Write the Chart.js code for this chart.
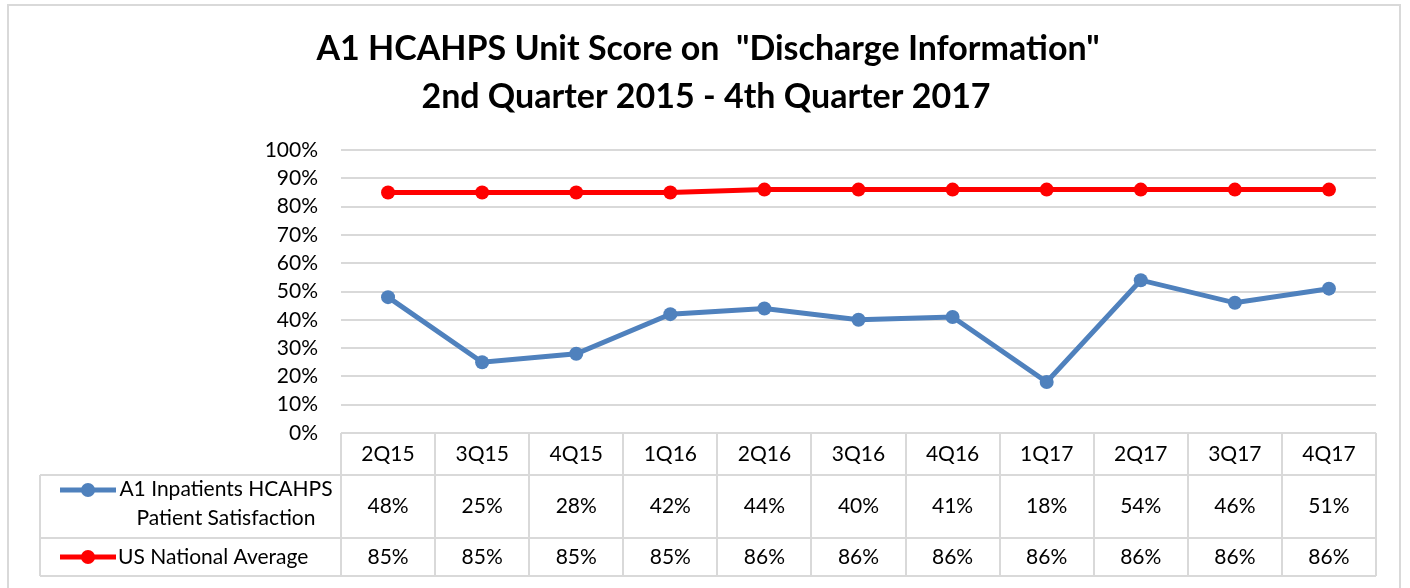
<!DOCTYPE html>
<html>
<head>
<meta charset="utf-8">
<script src="https://cdn.jsdelivr.net/npm/chart.js@4"></script>
<style>
  html, body { margin: 0; padding: 0; background: #fff; }
  #wrap { position: relative; width: 1410px; height: 588px; }
</style>
</head>
<body>
<div id="wrap"><canvas id="hcahpsChart" width="1410" height="588"></canvas></div>
<script>
const quarters = ['2Q15', '3Q15', '4Q15', '1Q16', '2Q16', '3Q16', '4Q16', '1Q17', '2Q17', '3Q17', '4Q17'];
const unitScores = [48, 25, 28, 42, 44, 40, 41, 18, 54, 46, 51];
const nationalAvg = [85, 85, 85, 85, 86, 86, 86, 86, 86, 86, 86];
const seriesNames = [['A1 Inpatients HCAHPS', 'Patient Satisfaction'], ['US National Average']];
const titleLines = ['A1 HCAHPS Unit Score on  "Discharge Information"', '2nd Quarter 2015 - 4th Quarter 2017'];

const FONT = 'Lato, "Liberation Sans", sans-serif';
const BLUE = '#4f81bd';
const RED = '#ff0000';
const GRID = '#d9d9d9';

// draws the frame, the title and the excel-style data table under the plot
const dataTablePlugin = {
    id: 'dataTable',
    beforeDraw: (chart) => {
        const ctx = chart.ctx;
        ctx.save();
        ctx.strokeStyle = GRID;
        ctx.lineWidth = 2;
        ctx.strokeRect(8, 5, 1392, 610);
        ctx.restore();
    },
    afterDraw: (chart) => {
        const ctx = chart.ctx;
        const area = chart.chartArea;
        const x = chart.scales.x;
        const colW = x.getPixelForValue(1) - x.getPixelForValue(0);

        ctx.save();
        // title
        ctx.fillStyle = '#000';
        ctx.textAlign = 'center';
        ctx.textBaseline = 'middle';
        ctx.font = 'bold 34px ' + FONT;
        ctx.fillText(titleLines[0], 708, 49);
        ctx.fillText(titleLines[1], 706, 97);

        const top = area.bottom;
        const rowTops = [top, 475, 538, 576];
        const tableLeft = 40;

        ctx.strokeStyle = GRID;
        ctx.lineWidth = 2;
        // horizontal lines
        ctx.beginPath();
        ctx.moveTo(tableLeft, rowTops[1]); ctx.lineTo(area.right, rowTops[1]);
        ctx.moveTo(tableLeft, rowTops[2]); ctx.lineTo(area.right, rowTops[2]);
        ctx.moveTo(tableLeft, rowTops[3]); ctx.lineTo(area.right, rowTops[3]);
        // vertical lines
        ctx.moveTo(tableLeft, rowTops[1]); ctx.lineTo(tableLeft, rowTops[3]);
        for (let i = 0; i <= quarters.length; i++) {
            const px = Math.round(area.left + i * colW);
            ctx.moveTo(px, top); ctx.lineTo(px, rowTops[3]);
        }
        ctx.stroke();

        // header + values
        ctx.fillStyle = '#000';
        ctx.font = '21px ' + FONT;
        ctx.textAlign = 'center';
        const rows = [unitScores, nationalAvg];
        quarters.forEach((q, i) => {
            const cx = x.getPixelForValue(i);
            ctx.fillText(q, cx, (rowTops[0] + rowTops[1]) / 2);
            rows.forEach((vals, r) => {
                ctx.fillText(vals[i] + '%', cx, (rowTops[r + 1] + rowTops[r + 2]) / 2);
            });
        });

        // legend keys
        const keyColors = [BLUE, RED];
        const keyY = [490, 557];
        keyColors.forEach((c, r) => {
            ctx.strokeStyle = c;
            ctx.fillStyle = c;
            ctx.lineWidth = 5;
            ctx.beginPath();
            ctx.moveTo(60, keyY[r]); ctx.lineTo(116, keyY[r]);
            ctx.stroke();
            ctx.beginPath();
            ctx.arc(88, keyY[r], 7, 0, Math.PI * 2);
            ctx.fill();
        });
        ctx.fillStyle = '#000';
        ctx.textAlign = 'center';
        ctx.fillText(seriesNames[0][0], 226, 489);
        ctx.fillText(seriesNames[0][1], 226, 518);
        ctx.textAlign = 'left';
        ctx.fillText(seriesNames[1][0], 118, 557);
        ctx.restore();
    }
};

const ctx = document.getElementById('hcahpsChart').getContext('2d');
new Chart(ctx, {
    type: 'line',
    data: {
        labels: quarters,
        datasets: [{
            label: seriesNames[0].join(' '),
            data: unitScores,
            borderColor: BLUE,
            backgroundColor: BLUE,
            borderWidth: 5,
            pointRadius: 7,
            pointBorderWidth: 0,
            pointBackgroundColor: BLUE,
            tension: 0,
        }, {
            label: seriesNames[1][0],
            data: nationalAvg,
            borderColor: RED,
            backgroundColor: RED,
            borderWidth: 5,
            pointRadius: 7,
            pointBorderWidth: 0,
            pointBackgroundColor: RED,
            tension: 0,
        }],
    },
    options: {
        responsive: false,
        animation: false,
        events: [],
        layout: {
            padding: { top: 150, right: 34, bottom: 155, left: 0 },
        },
        plugins: {
            legend: { display: false },
            title: { display: false },
            tooltip: { enabled: false },
        },
        scales: {
            x: {
                display: false,
                offset: true,
            },
            y: {
                min: 0,
                max: 100,
                afterFit: (scale) => { scale.width = 341; },
                border: { display: false },
                grid: { color: GRID, lineWidth: 2, drawTicks: false },
                ticks: {
                    stepSize: 10,
                    padding: 23,
                    color: '#000',
                    font: { family: FONT, size: 21 },
                    callback: (v) => v + '%',
                },
            },
        },
    },
    plugins: [dataTablePlugin],
});
</script>
</body>
</html>
